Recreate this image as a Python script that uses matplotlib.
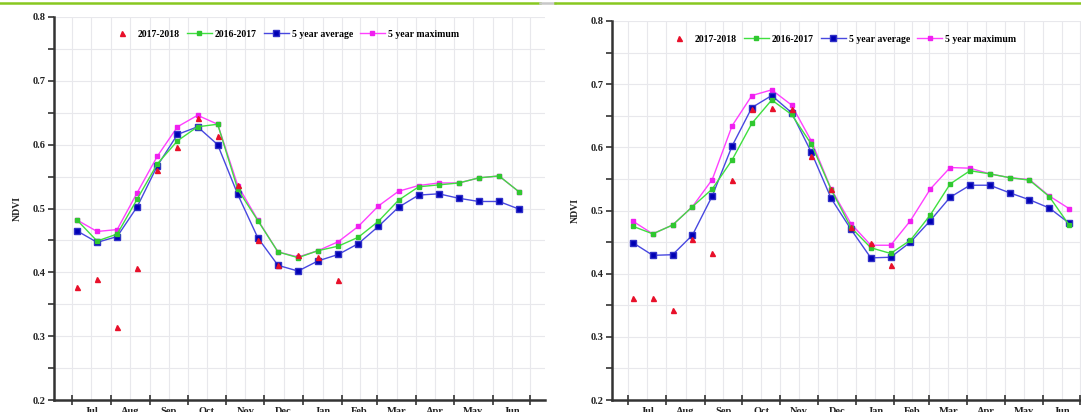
import numpy as np
import matplotlib
matplotlib.use("Agg")
import matplotlib.pyplot as plt
from matplotlib.lines import Line2D

# ---------------- data ----------------
# composite dates, days after 1 July (16-day composites)
days = [4, 20, 36, 52, 68, 84, 100, 116, 132, 148, 164, 180,
        196, 212, 228, 244, 260, 276, 292, 308, 324, 340, 356]
month_starts = [0, 31, 62, 92, 123, 153, 184, 215, 243, 274, 304, 335, 365]
month_labels = ["Jul", "Aug", "Sep", "Oct", "Nov", "Dec",
                "Jan", "Feb", "Mar", "Apr", "May", "Jun"]
series_names = ["2017-2018", "2016-2017", "5 year average", "5 year maximum"]

nan = np.nan
# left panel
left_2017_2018 = [0.377, 0.390, 0.315, 0.407, 0.560, 0.597, 0.641, 0.614, 0.537,
                  0.451, 0.411, 0.427, 0.424, 0.388, nan, nan, nan, nan, nan,
                  nan, nan, nan, nan]
left_2016_2017 = [0.482, 0.449, 0.460, 0.515, 0.570, 0.606, 0.628, 0.632, 0.530,
                  0.481, 0.432, 0.423, 0.434, 0.441, 0.455, 0.480, 0.513, 0.534,
                  0.537, 0.540, 0.548, 0.551, 0.526]
left_avg = [0.465, 0.447, 0.456, 0.503, 0.567, 0.616, 0.628, 0.600, 0.522,
            0.454, 0.411, 0.402, 0.418, 0.428, 0.445, 0.472, 0.502, 0.521,
            0.523, 0.516, 0.511, 0.511, 0.499]
left_max = [0.482, 0.464, 0.467, 0.525, 0.582, 0.628, 0.646, 0.632, 0.536,
            0.482, 0.432, 0.424, 0.434, 0.448, 0.472, 0.504, 0.527, 0.536,
            0.540, 0.540, 0.548, 0.551, 0.526]

# right panel
right_2017_2018 = [0.362, 0.362, 0.342, 0.455, 0.432, 0.549, 0.661, 0.663, 0.660,
                   0.587, 0.534, 0.474, 0.448, 0.414, nan, nan, nan, nan, nan,
                   nan, nan, nan, nan]
right_2016_2017 = [0.475, 0.463, 0.477, 0.506, 0.534, 0.580, 0.638, 0.675, 0.652,
                   0.605, 0.533, 0.473, 0.441, 0.432, 0.453, 0.493, 0.542, 0.563,
                   0.558, 0.552, 0.548, 0.522, 0.477]
right_avg = [0.449, 0.429, 0.430, 0.461, 0.523, 0.602, 0.663, 0.682, 0.655,
             0.592, 0.519, 0.470, 0.425, 0.426, 0.450, 0.484, 0.521, 0.540,
             0.540, 0.528, 0.517, 0.504, 0.480]
right_max = [0.483, 0.463, 0.477, 0.506, 0.549, 0.634, 0.682, 0.691, 0.667,
             0.610, 0.534, 0.479, 0.445, 0.445, 0.484, 0.534, 0.568, 0.567,
             0.558, 0.552, 0.549, 0.523, 0.503]

# ---------------- style ----------------
plt.rcParams['font.family'] = ['Liberation Serif', 'DejaVu Serif']
plt.rcParams['font.weight'] = 'bold'

W, H = 1081, 412
fig = plt.figure(figsize=(W / 100, H / 100), dpi=100)

RED = '#e8102a'
GREEN = '#3fe03f'
BLUE_L = '#4848e0'
BLUE_M = '#0000b4'
MAG = '#ff40ff'
AXC = '#333333'


def px_axes(x0, x1, ytop, ybot):
    return [x0 / W, 1 - ybot / H, (x1 - x0) / W, (ybot - ytop) / H]


def draw_panel(ax, red, green, avg, mx, xlim, leg_anchor):
    ax.plot(days, mx, color=MAG, lw=1.0, marker='s', ms=3.3,
            mfc='#f020f0', mec='#f020f0', zorder=3, label=series_names[3])
    ax.plot(days, avg, color=BLUE_L, lw=1.0, marker='s', ms=4.2,
            mfc=BLUE_M, mec='#3030c8', zorder=4, label=series_names[2])
    ax.plot(days, green, color=GREEN, lw=1.0, marker='s', ms=3.0,
            mfc='#30c830', mec='#30c830', zorder=5, label=series_names[1])
    ax.plot(days, red, linestyle='none', marker='^', ms=3.6,
            mfc=RED, mec=RED, zorder=6, label=series_names[0])

    ax.set_xlim(*xlim)
    ax.set_ylim(0.2, 0.8)
    ax.set_yticks([0.2, 0.3, 0.4, 0.5, 0.6, 0.7, 0.8])
    ax.set_yticks([0.25, 0.35, 0.45, 0.55, 0.65, 0.75], minor=True)
    ax.set_xticks(month_starts)
    ax.set_xticklabels([])
    mids = [(a + b) / 2 for a, b in zip(month_starts[:-1], month_starts[1:])]
    ax.set_xticks(mids, minor=True)
    ax.set_xticklabels(month_labels, minor=True)

    ax.tick_params(axis='y', which='both', direction='out', length=4,
                   width=1.2, color=AXC, labelsize=7.5, pad=2)
    ax.tick_params(axis='x', which='major', direction='inout', length=7,
                   width=1.2, color=AXC)
    ax.tick_params(axis='x', which='minor', length=0, labelsize=7.5, pad=5)
    for lab in ax.get_yticklabels() + ax.get_xticklabels(minor=True):
        lab.set_fontweight('bold')
        lab.set_color('#222222')

    ax.grid(True, which='both', color='#e8e8ec', lw=0.8, zorder=0)
    ax.set_axisbelow(True)
    for s in ['top', 'right']:
        ax.spines[s].set_visible(False)
    for s in ['left', 'bottom']:
        ax.spines[s].set_color(AXC)
        ax.spines[s].set_linewidth(1.8)

    ax.set_ylabel('NDVI', fontsize=7, fontweight='bold', labelpad=8,
                  color='#222222')

    handles, labels = ax.get_legend_handles_labels()
    order = [3, 2, 1, 0]
    leg = ax.legend([handles[i] for i in order], [labels[i] for i in order],
                    loc='center left', bbox_to_anchor=leg_anchor, ncol=4,
                    frameon=False, fontsize=7, handlelength=2.6,
                    handletextpad=0.3, columnspacing=0.7, borderaxespad=0,
                    prop={'weight': 'bold', 'size': 7})
    return leg


ax1 = fig.add_axes(px_axes(54, 545, 17, 400))
draw_panel(ax1, left_2017_2018, left_2016_2017, left_avg, left_max,
           xlim=(-14.3, 376.6), leg_anchor=(0.105, 0.955))

ax2 = fig.add_axes(px_axes(612, 1081, 21, 400))
draw_panel(ax2, right_2017_2018, right_2016_2017, right_avg, right_max,
           xlim=(-12.9, 365.6), leg_anchor=(0.108, 0.952))

# slide decoration line at top
fig.add_artist(Line2D([0, 540 / W], [1 - 3 / H, 1 - 3 / H], color='#88c820',
                      lw=1.8, transform=fig.transFigure))
fig.add_artist(Line2D([540 / W, 555 / W], [1 - 3 / H, 1 - 3 / H],
                      color='#c8c8c8', lw=1.8, transform=fig.transFigure))
fig.add_artist(Line2D([555 / W, 1], [1 - 3 / H, 1 - 3 / H], color='#88c820',
                      lw=1.8, transform=fig.transFigure))

fig.savefig('out.png', dpi=100)
